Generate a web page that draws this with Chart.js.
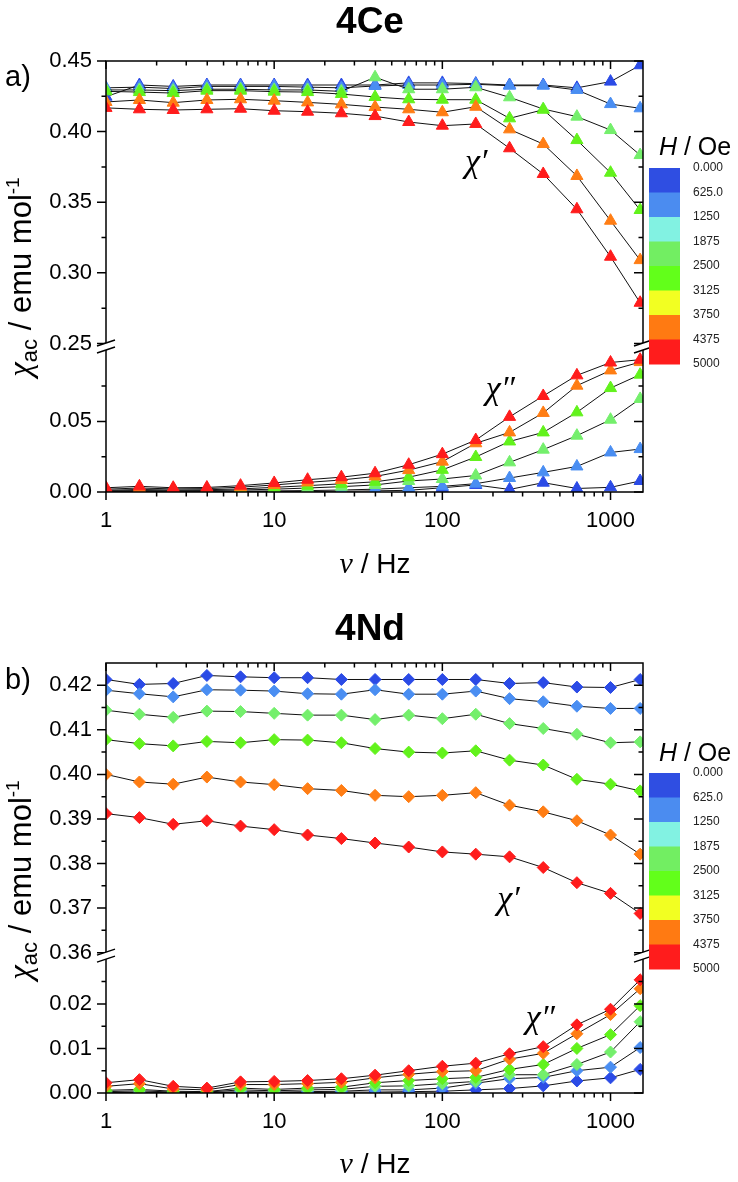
<!DOCTYPE html>
<html>
<head>
<meta charset="utf-8">
<script src="https://cdn.jsdelivr.net/npm/chart.js@4.4.1/dist/chart.umd.min.js"></script>
<style>
  html, body { margin: 0; padding: 0; background: #fff; }
  #wrap { position: relative; width: 738px; height: 1182px; }
  .panel { position: absolute; left: 0; width: 738px; }
</style>
</head>
<body>
<div id="wrap">
  <div class="panel" style="top:0;height:590px"><canvas id="chartCe"></canvas></div>
  <div class="panel" style="top:590px;height:592px"><canvas id="chartNd"></canvas></div>
</div>
<script>
// frequencies (Hz)
var freqs = [1, 1.58, 2.51, 3.98, 6.31, 10, 15.8, 25.1, 39.8, 63.1, 100, 158, 251, 398, 631, 1000, 1500];

// one colour per applied field, 0 ... 5000 Oe
var seriesColors = ['#2b4be6', '#4a8ef2', '#74ef6c', '#62f21c', '#ff7d14', '#ff1c1c'];

// 4Ce chi' (upper part)
var ceReal = [
  [0.4247, 0.433, 0.432, 0.433, 0.433, 0.433, 0.433, 0.433, 0.433, 0.4345, 0.4345, 0.434, 0.433, 0.433, 0.431, 0.4354, 0.447],
  [0.431, 0.4315, 0.4305, 0.432, 0.432, 0.432, 0.4315, 0.431, 0.4323, 0.433, 0.433, 0.4335, 0.4325, 0.4325, 0.4295, 0.4195, 0.4165],
  [0.4295, 0.4295, 0.429, 0.430, 0.430, 0.4295, 0.4295, 0.4285, 0.4385, 0.430, 0.430, 0.4314, 0.4243, 0.416, 0.4106, 0.4011, 0.3834],
  [0.4285, 0.428, 0.4273, 0.429, 0.429, 0.4283, 0.428, 0.4266, 0.4245, 0.4229, 0.4226, 0.4226, 0.4094, 0.4155, 0.394, 0.3709, 0.3445],
  [0.421, 0.4224, 0.4205, 0.4224, 0.4229, 0.4219, 0.4207, 0.4193, 0.4174, 0.4158, 0.4137, 0.4176, 0.4016, 0.3912, 0.3686, 0.3369, 0.309],
  [0.4168, 0.4158, 0.4153, 0.4158, 0.4162, 0.4148, 0.4141, 0.413, 0.411, 0.4068, 0.4042, 0.4054, 0.3882, 0.370, 0.345, 0.3114, 0.2788]
];
// 4Ce chi'' (lower part)
var ceImag = [
  [0.0002, 0.0002, 0.0002, 0.0002, 0.0003, 0.0003, 0.0004, 0.0005, 0.0008, 0.0012, 0.003, 0.005, 0.0018, 0.0066, 0.0025, 0.0033, 0.0078],
  [0.0004, 0.0005, 0.0004, 0.0005, 0.0006, 0.0008, 0.001, 0.0014, 0.002, 0.003, 0.004, 0.0059, 0.0099, 0.0139, 0.0181, 0.028, 0.0304],
  [0.0008, 0.001, 0.0009, 0.001, 0.0014, 0.002, 0.0028, 0.0038, 0.005, 0.0078, 0.0092, 0.0117, 0.021, 0.030, 0.0399, 0.0512, 0.0659],
  [0.0012, 0.0018, 0.0014, 0.0016, 0.0022, 0.0033, 0.0045, 0.0058, 0.0072, 0.0105, 0.0157, 0.0248, 0.0358, 0.0422, 0.0564, 0.0736, 0.0831],
  [0.002, 0.0028, 0.0022, 0.0024, 0.0034, 0.005, 0.0068, 0.0085, 0.011, 0.0155, 0.0215, 0.0345, 0.0422, 0.056, 0.0753, 0.0861, 0.092],
  [0.003, 0.004, 0.003, 0.0032, 0.0045, 0.0064, 0.0087, 0.0105, 0.0133, 0.0193, 0.0268, 0.0368, 0.0532, 0.068, 0.0826, 0.0917, 0.0937]
];

// 4Nd chi' (upper part)
var ndReal = [
  [0.4213, 0.4202, 0.4204, 0.4222, 0.4219, 0.4217, 0.4217, 0.4213, 0.4213, 0.4213, 0.4213, 0.4213, 0.4204, 0.4206, 0.4196, 0.4195, 0.4213],
  [0.4189, 0.4181, 0.4174, 0.419, 0.4189, 0.4187, 0.4181, 0.418, 0.419, 0.418, 0.418, 0.4187, 0.417, 0.4163, 0.4153, 0.4148, 0.4148],
  [0.4144, 0.4135, 0.4128, 0.4142, 0.4141, 0.4137, 0.4133, 0.4133, 0.4123, 0.4133, 0.4125, 0.4135, 0.4114, 0.4103, 0.409, 0.4071, 0.4073],
  [0.4078, 0.4069, 0.4064, 0.4074, 0.4071, 0.4078, 0.4077, 0.4071, 0.4058, 0.405, 0.4048, 0.4053, 0.4032, 0.4021, 0.3989, 0.3978, 0.3963],
  [0.400, 0.3983, 0.3978, 0.3994, 0.3983, 0.3977, 0.3968, 0.3964, 0.3953, 0.395, 0.3953, 0.3959, 0.3931, 0.3916, 0.3896, 0.3864, 0.3821],
  [0.3912, 0.3903, 0.3888, 0.3896, 0.3884, 0.3876, 0.3864, 0.3856, 0.3846, 0.3837, 0.3826, 0.3821, 0.3815, 0.3791, 0.3757, 0.3733, 0.3688]
];
// 4Nd chi'' (lower part)
var ndImag = [
  [0.0001, 0.0001, 0.0001, 0.0001, 0.0001, 0.0001, 0.0001, 0.0002, 0.0002, 0.0003, 0.0004, 0.0007, 0.001, 0.0016, 0.0027, 0.0034, 0.0053],
  [0.0001, 0.0002, 0.0001, 0.0001, 0.0003, 0.0002, 0.0003, 0.0004, 0.0007, 0.0007, 0.0011, 0.0022, 0.0032, 0.0035, 0.005, 0.0058, 0.0102],
  [0.0003, 0.0005, 0.0002, 0.0002, 0.0007, 0.0005, 0.0007, 0.0008, 0.0015, 0.0016, 0.0021, 0.0026, 0.0041, 0.0041, 0.0064, 0.0092, 0.016],
  [0.0006, 0.0008, 0.0004, 0.0003, 0.0011, 0.0008, 0.0011, 0.0013, 0.0023, 0.0028, 0.0032, 0.0035, 0.0053, 0.0064, 0.01, 0.0131, 0.0196],
  [0.0015, 0.0021, 0.0009, 0.0007, 0.0019, 0.0019, 0.0021, 0.0024, 0.0034, 0.0042, 0.0048, 0.005, 0.0076, 0.0089, 0.0133, 0.0176, 0.0234],
  [0.0023, 0.003, 0.0015, 0.0011, 0.0025, 0.0026, 0.0028, 0.0032, 0.004, 0.005, 0.006, 0.0067, 0.0088, 0.0104, 0.0153, 0.0188, 0.0254]
];

// tick values
var xLabelTicks = [1, 10, 100, 1000];
var ceUpTicks = [0.25, 0.30, 0.35, 0.40, 0.45];
var ceUpMinor = [0.275, 0.325, 0.375, 0.425];
var ceLowTicks = [0, 0.05];
var ceLowMinor = [0.025, 0.075];
var ndUpTicks = [0.36, 0.37, 0.38, 0.39, 0.40, 0.41, 0.42];
var ndUpMinor = [0.365, 0.375, 0.385, 0.395, 0.405, 0.415];
var ndLowTicks = [0, 0.01, 0.02];
var ndLowMinor = [0.005, 0.015, 0.025];

// colour scale legend
var barLabels = ['0.000', '625.0', '1250', '1875', '2500', '3125', '3750', '4375', '5000'];
var barColors = ['#2f4ee2', '#4b8cf0', '#82f2e2', '#72ee62', '#62ff1a', '#f2ff22', '#ff7a12', '#ff1c1c'];

var SANS = '"Liberation Sans", Arial, sans-serif';
var SERIF = '"Liberation Serif", "Times New Roman", serif';
Chart.defaults.font.family = SANS;
Chart.defaults.color = '#000';

function richWidth(ctx, parts) {
  var w = 0;
  parts.forEach(function(p) { ctx.font = p.font; w += ctx.measureText(p.t).width; });
  return w;
}
// x = centre, y = baseline
function drawRich(ctx, parts, x, y) {
  var cx = x - richWidth(ctx, parts) / 2;
  parts.forEach(function(p) {
    ctx.font = p.font;
    ctx.fillText(p.t, cx, y + (p.dy || 0));
    cx += ctx.measureText(p.t).width;
  });
}

var decor = {
  id: 'decor',
  afterDraw: function(chart, args, o) {
    var ctx = chart.ctx, ca = chart.chartArea;
    var sx = chart.scales.x, su = chart.scales.yUp, sl = chart.scales.yLow;
    ctx.save();
    ctx.strokeStyle = '#000';
    ctx.lineWidth = 1.5;
    ctx.strokeRect(ca.left, ca.top, ca.right - ca.left, ca.bottom - ca.top);

    // ticks: outward on left/bottom, inward on top/right
    ctx.beginPath();
    xLabelTicks.forEach(function(d) {
      for (var k = 1; k < 10; k++) {
        var v = k * d;
        if (v > sx.max) break;
        var px = sx.getPixelForValue(v);
        var len = k === 1 ? 8 : 4.5;
        ctx.moveTo(px, ca.bottom); ctx.lineTo(px, ca.bottom + len);
        ctx.moveTo(px, ca.top); ctx.lineTo(px, ca.top + len);
      }
    });
    function yTick(s, vals, len) {
      vals.forEach(function(v) {
        var py = s.getPixelForValue(v);
        ctx.moveTo(ca.left - len, py); ctx.lineTo(ca.left, py);
        ctx.moveTo(ca.right - len, py); ctx.lineTo(ca.right, py);
      });
    }
    yTick(su, o.upMajor, 9); yTick(su, o.upMinor, 4.5);
    yTick(sl, o.lowMajor, 9); yTick(sl, o.lowMinor, 4.5);
    ctx.stroke();

    // axis break marks
    var yb = su.bottom + 3;
    [ca.left, ca.right].forEach(function(xx) {
      ctx.fillStyle = '#fff';
      ctx.beginPath();
      ctx.moveTo(xx - 9, yb - 0.5); ctx.lineTo(xx + 9, yb - 6.5);
      ctx.lineTo(xx + 9, yb + 0.5); ctx.lineTo(xx - 9, yb + 6.5);
      ctx.closePath(); ctx.fill();
      ctx.beginPath();
      ctx.moveTo(xx - 9, yb - 0.5); ctx.lineTo(xx + 9, yb - 6.5);
      ctx.moveTo(xx - 9, yb + 6.5); ctx.lineTo(xx + 9, yb + 0.5);
      ctx.stroke();
    });

    ctx.fillStyle = '#000';
    ctx.textBaseline = 'alphabetic';
    ctx.textAlign = 'center';
    ctx.font = 'bold 37px ' + SANS;
    ctx.fillText(o.title, 370, o.titleY);
    ctx.textAlign = 'left';
    ctx.font = '29px ' + SANS;
    ctx.fillText(o.letter, 5, o.letterY);

    // axis titles
    drawRich(ctx, [
      {t: '\u03bd', font: 'italic 30px ' + SERIF},
      {t: ' / Hz', font: '28px ' + SANS}
    ], 375, o.xTitleY);
    ctx.save();
    ctx.translate(31, o.yTitleY);
    ctx.rotate(-Math.PI / 2);
    drawRich(ctx, [
      {t: '\u03c7', font: 'italic 33px ' + SERIF},
      {t: 'ac', font: '22px ' + SANS, dy: 6},
      {t: ' / emu mol', font: '31px ' + SANS},
      {t: '-1', font: '19px ' + SANS, dy: -12}
    ], 0, 0);
    ctx.restore();

    // chi' / chi'' labels placed in data coordinates
    ctx.textAlign = 'center';
    ctx.textBaseline = 'middle';
    ctx.font = 'italic 34px ' + SERIF;
    o.notes.forEach(function(n) {
      var s = chart.scales[n.axis];
      ctx.fillText(n.t, sx.getPixelForValue(n.x), s.getPixelForValue(n.y));
    });

    // colour scale
    ctx.textAlign = 'left';
    ctx.textBaseline = 'alphabetic';
    drawRich(ctx, [
      {t: 'H', font: 'italic 25px ' + SANS},
      {t: ' / Oe', font: '25px ' + SANS}
    ], 695, o.barTitleY);
    var bh = 24.5;
    barColors.forEach(function(c, i) {
      ctx.fillStyle = c;
      ctx.fillRect(649, o.barTop + i * bh, 31, bh + 0.5);
    });
    ctx.fillStyle = '#222';
    ctx.font = '12px ' + SANS;
    ctx.textBaseline = 'middle';
    barLabels.forEach(function(l, i) {
      ctx.fillText(l, 693, o.barTop + i * bh);
    });
    ctx.restore();
  }
};

function makeChart(id, cfg) {
  var datasets = [];
  seriesColors.forEach(function(col, i) {
    [[cfg.real[i], 'yUp'], [cfg.imag[i], 'yLow']].forEach(function(pair) {
      datasets.push({
        data: freqs.map(function(f, j) { return {x: f, y: pair[0][j]}; }),
        yAxisID: pair[1],
        borderColor: '#111',
        borderWidth: 1,
        pointStyle: cfg.marker,
        pointRadius: cfg.radius,
        pointBackgroundColor: col,
        pointBorderColor: col,
        pointBorderWidth: 1,
        order: seriesColors.length - i
      });
    });
  });

  function yScale(min, max, labels) {
    return {
      type: 'linear', position: 'left', stack: 'v', stackWeight: max - min,
      min: min, max: max,
      grid: {display: false, drawTicks: false},
      border: {display: false},
      afterBuildTicks: function(s) { s.ticks = labels.map(function(v) { return {value: v}; }); },
      afterFit: function(s) { s.width = 106; },
      ticks: {autoSkip: false, padding: 14, font: {size: 22},
              callback: function(v) { return Number(v).toFixed(2); }}
    };
  }

  return new Chart(document.getElementById(id), {
    type: 'line',
    data: {datasets: datasets},
    options: {
      responsive: true,
      maintainAspectRatio: false,
      animation: false,
      devicePixelRatio: 1,
      layout: {padding: {top: cfg.top, right: 95, left: 0, bottom: 0}},
      plugins: {legend: {display: false}, tooltip: {enabled: false}, decor: cfg.decor},
      scales: {
        x: {
          type: 'logarithmic', min: 1, max: 1560,
          grid: {display: false, drawTicks: false},
          border: {display: false},
          afterBuildTicks: function(s) { s.ticks = xLabelTicks.map(function(v) { return {value: v}; }); },
          afterFit: function(s) { s.height = cfg.xHeight; },
          ticks: {autoSkip: false, maxRotation: 0, padding: 16, font: {size: 22},
                  callback: function(v) { return String(v); }}
        },
        yLow: yScale(0, cfg.lowMax, cfg.decor.lowMajor),
        yUp: yScale(cfg.upMin, cfg.upMax, cfg.decor.upMajor)
      }
    },
    plugins: [decor]
  });
}

makeChart('chartCe', {
  real: ceReal, imag: ceImag, marker: 'triangle', radius: 7,
  top: 61, xHeight: 98, upMin: 0.25, upMax: 0.45, lowMax: 0.1052,
  decor: {
    title: '4Ce', titleY: 33, letter: 'a)', letterY: 86,
    xTitleY: 573, yTitleY: 277, barTitleY: 155, barTop: 168,
    upMajor: ceUpTicks, upMinor: ceUpMinor, lowMajor: ceLowTicks, lowMinor: ceLowMinor,
    notes: [{t: '\u03c7\u2032', x: 159, y: 0.3778, axis: 'yUp'},
            {t: '\u03c7\u2033', x: 221, y: 0.0725, axis: 'yLow'}]
  }
});

makeChart('chartNd', {
  real: ndReal, imag: ndImag, marker: 'rectRot', radius: 6,
  top: 73, xHeight: 89, upMin: 0.36, upMax: 0.425, lowMax: 0.0315,
  decor: {
    title: '4Nd', titleY: 50, letter: 'b)', letterY: 99,
    xTitleY: 583, yTitleY: 290, barTitleY: 171, barTop: 183,
    upMajor: ndUpTicks, upMinor: ndUpMinor, lowMajor: ndLowTicks, lowMinor: ndLowMinor,
    notes: [{t: '\u03c7\u2032', x: 247, y: 0.3718, axis: 'yUp'},
            {t: '\u03c7\u2033', x: 383, y: 0.0166, axis: 'yLow'}]
  }
});
</script>
</body>
</html>
